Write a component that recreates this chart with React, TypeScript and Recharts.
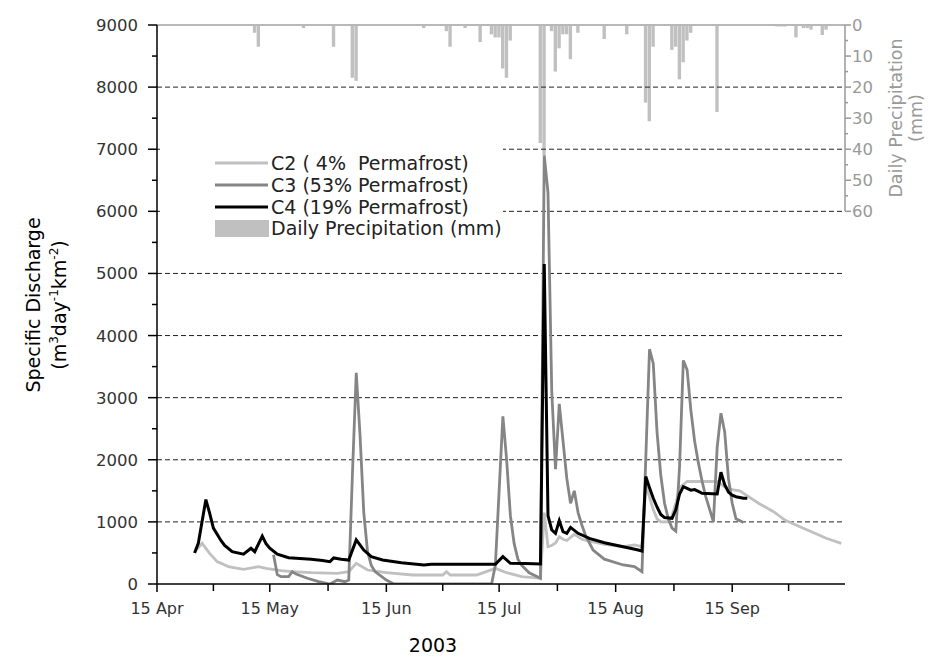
import React from "react";
import { ComposedChart, Line, Bar, XAxis, YAxis, ReferenceLine, Legend } from "recharts";

const FONT = "'DejaVu Sans', sans-serif";

// day of year 2003 -> value
const C2: [number, number][] = [
  [115, 520], [117, 655], [119, 494], [121, 360], [124, 280], [128, 236], [132, 279], [134, 250],
  [138, 214], [141, 198], [146, 182], [153, 172], [156, 198], [158, 333], [161, 225], [166, 182],
  [173, 145], [181, 145], [182, 198], [183, 145], [190, 145], [195, 252], [198, 182], [202, 118],
  [207, 92], [208, 1150], [209, 600], [210, 620], [211, 660], [212, 760], [213, 720], [214, 700],
  [216, 800], [218, 720], [220, 690], [224, 640], [229, 600], [232, 630], [234, 600], [235, 1600],
  [236, 1400], [237, 1200], [238, 1050], [239, 1000], [241, 1000], [242, 1100], [243, 1300],
  [244, 1550], [246, 1650], [250, 1650], [254, 1650], [256, 1560], [258, 1520], [260, 1500],
  [265, 1300], [269, 1164], [272, 1030], [276, 922], [280, 816], [283, 736], [287, 655],
];

const C3: [number, number][] = [
  [136, 470], [137, 150], [138, 118], [140, 118], [141, 198], [142, 160], [145, 92], [148, 37],
  [151, 0], [153, 64], [155, 37], [156, 64], [157, 1800], [158, 3400], [159, 2400], [160, 1150],
  [161, 520], [162, 300], [163, 200], [166, 64], [168, 0], [194, 0], [195, 300], [196, 1500],
  [197, 2700], [198, 2000], [199, 1100], [200, 650], [201, 400], [202, 300], [204, 180], [207, 92],
  [208, 6900], [209, 6300], [210, 3100], [211, 1850], [212, 2900], [213, 2300], [214, 1700],
  [215, 1300], [216, 1500], [217, 1150], [218, 950], [219, 780], [221, 547], [224, 400], [229, 306],
  [232, 280], [234, 198], [235, 2000], [236, 3780], [237, 3550], [238, 2450], [239, 1750],
  [240, 1300], [241, 1050], [242, 900], [243, 850], [244, 1900], [245, 3600], [246, 3450],
  [247, 2800], [248, 2300], [249, 1950], [250, 1650], [251, 1400], [252, 1200], [253, 1000],
  [254, 2200], [255, 2750], [256, 2450], [257, 1700], [258, 1300], [259, 1050], [261, 990],
];

const C4: [number, number][] = [
  [115, 500], [116, 660], [118, 1360], [119, 1140], [120, 900], [121, 800], [122, 700], [123, 620],
  [125, 520], [128, 480], [130, 575], [131, 520], [133, 770], [134, 650], [135, 575], [137, 480],
  [140, 424], [143, 410], [146, 400], [149, 380], [151, 360], [152, 420], [154, 400], [156, 386],
  [158, 710], [160, 547], [162, 440], [165, 386], [170, 343], [176, 306], [178, 317], [187, 317],
  [195, 317], [197, 440], [199, 333], [203, 330], [207, 322], [208, 5150], [209, 1100], [210, 870],
  [211, 816], [212, 1020], [213, 842], [214, 816], [215, 912], [217, 816], [220, 735], [224, 665],
  [229, 601], [233, 547], [234, 530], [235, 1730], [236, 1550], [237, 1380], [238, 1240],
  [239, 1120], [240, 1070], [242, 1057], [243, 1200], [244, 1450], [245, 1567], [246, 1540],
  [247, 1510], [248, 1520], [249, 1490], [250, 1460], [254, 1450], [255, 1800], [256, 1600],
  [257, 1480], [258, 1430], [259, 1405], [261, 1380], [262, 1380],
];

// daily precipitation, mm
const PRECIP: [number, number][] = [
  [119, 0.3], [131, 2.5], [132, 7], [144, 1], [152, 7], [157, 17], [158, 18], [176, 1], [182, 2],
  [183, 7], [187, 1], [191, 5.5], [194, 3], [195, 4], [196, 4], [197, 14], [198, 17], [199, 5],
  [207, 38], [208, 42], [210, 2], [211, 15], [212, 7.5], [213, 3], [214, 3], [215, 11], [217, 2.5],
  [224, 4.5], [230, 3], [235, 25], [236, 31], [237, 7], [242, 8], [243, 7], [244, 17.5], [245, 12],
  [246, 5], [247, 2.5], [254, 28], [270, 0.5], [271, 0.5], [272, 0.5], [275, 4], [277, 1], [278, 1],
  [279, 1.5], [282, 3.2], [283, 1.5],
];

const MAJOR_DAYS = [105, 135, 166, 196, 227, 258];
const MAJOR_LABELS = ["15 Apr", "15 May", "15 Jun", "15 Jul", "15 Aug", "15 Sep"];
const MINOR_DAYS = [120, 150.5, 181, 211.5, 242.5, 273];
const Q_TICKS = [0, 500, 1000, 1500, 2000, 2500, 3000, 3500, 4000, 4500, 5000, 5500, 6000, 6500, 7000, 7500, 8000, 8500, 9000];
const GRID_LEVELS = [1000, 2000, 3000, 4000, 5000, 6000, 7000, 8000];
const P_TICKS = [0, 5, 10, 15, 20, 25, 30, 35, 40, 45, 50, 55, 60];

const rows = (() => {
  const map = new Map<number, any>();
  const put = (list: [number, number][], key: string) =>
    list.forEach(([d, v]) => {
      const r = map.get(d) || { day: d };
      r[key] = v;
      map.set(d, r);
    });
  put(C2, "c2");
  put(C3, "c3");
  put(C4, "c4");
  put(PRECIP, "precip");
  return Array.from(map.values()).sort((a, b) => a.day - b.day);
})();

const LeftTick = (props: any) => {
  const { x, y, payload } = props;
  const major = payload.value % 1000 === 0;
  return (
    <g>
      <line x1={x} x2={x - (major ? 9 : 5)} y1={y} y2={y} stroke="#000" strokeWidth={1.5} />
      {major && (
        <text x={x - 19} y={y + 6} textAnchor="end" fontSize={16.5} fill="#333" fontFamily={FONT}>
          {payload.value}
        </text>
      )}
    </g>
  );
};

const BottomTick = (props: any) => {
  const { x, y, payload } = props;
  const i = MAJOR_DAYS.indexOf(payload.value);
  return (
    <g>
      <line x1={x} x2={x} y1={y} y2={y + (i >= 0 ? 8 : 7)} stroke="#000" strokeWidth={1.5} />
      {i >= 0 && (
        <text x={x} y={y + 30} textAnchor="middle" fontSize={16} fill="#333" fontFamily={FONT}>
          {MAJOR_LABELS[i]}
        </text>
      )}
    </g>
  );
};

const RightTick = (props: any) => {
  const { x, y, payload } = props;
  const major = payload.value % 10 === 0;
  return (
    <g>
      <line x1={x} x2={x + (major ? 6 : 3)} y1={y} y2={y} stroke="#999" strokeWidth={1.5} />
      {major && (
        <text x={x + 7} y={y + 6} textAnchor="start" fontSize={16.5} fill="#999" fontFamily={FONT}>
          {payload.value}
        </text>
      )}
    </g>
  );
};

const LeftTitle = () => (
  <text transform="translate(40,305) rotate(-90)" textAnchor="middle" fontSize={19} fill="#000" fontFamily={FONT}>
    <tspan x={0} y={0}>Specific Discharge</tspan>
    <tspan x={0} y={26}>(m</tspan>
    <tspan fontSize={12} dy={-8}>3</tspan>
    <tspan dy={8}>day</tspan>
    <tspan fontSize={12} dy={-8}>-1</tspan>
    <tspan dy={8}>km</tspan>
    <tspan fontSize={12} dy={-8}>-2</tspan>
    <tspan dy={8}>)</tspan>
  </text>
);

const RightTitle = () => (
  <text transform="translate(896,118) rotate(-90)" textAnchor="middle" fontSize={17.5} fill="#999" fontFamily={FONT}>
    <tspan x={0} y={6}>Daily Precipitation</tspan>
    <tspan x={0} y={26}>(mm)</tspan>
  </text>
);

const BottomTitle = () => (
  <text x={433} y={652} textAnchor="middle" fontSize={19} fill="#000" fontFamily={FONT}>
    2003
  </text>
);

const LEGEND_ITEMS = [
  { label: "C2 ( 4%  Permafrost)", color: "#c0c0c0" },
  { label: "C3 (53% Permafrost)", color: "#858585" },
  { label: "C4 (19% Permafrost)", color: "#000" },
];

const renderLegend = () => (
  <svg width={343} height={124} style={{ display: "block" }}>
    <rect x={0} y={0} width={343} height={124} fill="#fff" />
    {LEGEND_ITEMS.map((it, i) => {
      const cy = 25 + i * 22;
      return (
        <g key={it.label}>
          <line x1={55} x2={108} y1={cy} y2={cy} stroke={it.color} strokeWidth={3} />
          <text x={111} y={cy + 7} fontSize={19} fill="#222" fontFamily={FONT} style={{ whiteSpace: "pre" }}>
            {it.label}
          </text>
        </g>
      );
    })}
    <rect x={55} y={82} width={54} height={17} fill="#c0c0c0" />
    <text x={111} y={97} fontSize={19} fill="#222" fontFamily={FONT}>
      Daily Precipitation (mm)
    </text>
  </svg>
);

export default function App() {
  return (
    <div style={{ position: "absolute", left: 0, top: 0, background: "#fff" }}>
      <ComposedChart width={930} height={658} data={rows} margin={{ top: 25, right: 0, bottom: 0, left: 0 }}>
        <XAxis
          dataKey="day"
          type="number"
          domain={[105, 288]}
          ticks={[...MAJOR_DAYS, ...MINOR_DAYS].sort((a, b) => a - b)}
          interval={0}
          height={74}
          tickSize={0}
          tickMargin={0}
          tickLine={false}
          tick={BottomTick}
          axisLine={{ stroke: "#000", strokeWidth: 1.5 }}
          allowDataOverflow
          label={{ value: "2003", content: BottomTitle }}
        />
        <YAxis
          yAxisId="q"
          domain={[0, 9000]}
          ticks={Q_TICKS}
          interval={0}
          width={157}
          tickSize={0}
          tickMargin={0}
          tickLine={false}
          tick={LeftTick}
          axisLine={{ stroke: "#000", strokeWidth: 1.5 }}
          allowDataOverflow
          label={{ value: "Specific Discharge", content: LeftTitle }}
        />
        <YAxis
          yAxisId="p"
          orientation="right"
          domain={[0, 180]}
          reversed
          ticks={P_TICKS}
          interval={0}
          width={85}
          tickSize={0}
          tickMargin={0}
          tickLine={false}
          tick={RightTick}
          axisLine={false}
          allowDataOverflow
          label={{ value: "Daily Precipitation", content: RightTitle }}
        />
        {GRID_LEVELS.map((v) => (
          <ReferenceLine key={v} yAxisId="q" y={v} stroke="#222" strokeWidth={1} strokeDasharray="5 3" />
        ))}
        <Bar yAxisId="p" dataKey="precip" fill="#c0c0c0" barSize={4} isAnimationActive={false} />
        <ReferenceLine yAxisId="p" y={0} stroke="#b8b8b8" strokeWidth={2} />
        <ReferenceLine
          yAxisId="p"
          segment={[{ x: 288, y: 0 }, { x: 288, y: 60 }]}
          stroke="#999"
          strokeWidth={1.5}
        />
        <Line yAxisId="q" dataKey="c2" stroke="#c0c0c0" strokeWidth={2.8} dot={false} connectNulls isAnimationActive={false} />
        <Line yAxisId="q" dataKey="c3" stroke="#858585" strokeWidth={2.8} dot={false} connectNulls isAnimationActive={false} />
        <Line yAxisId="q" dataKey="c4" stroke="#000" strokeWidth={3} dot={false} connectNulls isAnimationActive={false} />
        <Legend
          content={renderLegend}
          layout="horizontal"
          align="center"
          verticalAlign="middle"
          wrapperStyle={{ position: "absolute", left: 160, top: 138, width: 343, height: 124 }}
        />
      </ComposedChart>
    </div>
  );
}
